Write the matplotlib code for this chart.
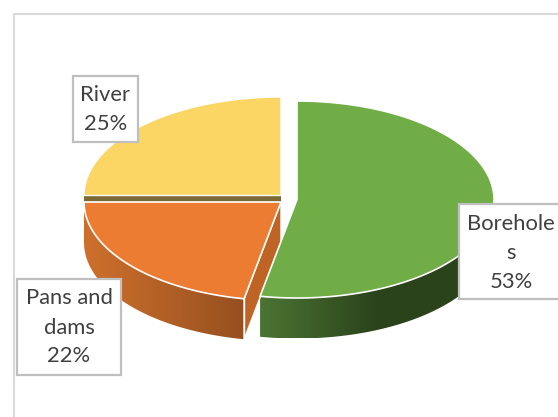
import numpy as np
import matplotlib
matplotlib.use("Agg")
import matplotlib.pyplot as plt
from matplotlib.colors import LinearSegmentedColormap
from matplotlib.patches import Polygon, Rectangle

# Shares in clockwise order from twelve o'clock
categories = ["Borehole\ns", "Pans and\ndams", "River"]
shares = [53, 22, 25]
top_colors = ["#70AD47", "#EC7C31", "#FBD665"]
wall_colors = [["#4B7433", "#2B431B", "#2B431B"], ["#CE702D", "#96501F"], ["#7B6A35", "#7B6A35"]]

plt.rcParams["font.family"] = ["Lato", "DejaVu Sans"]

fig = plt.figure(figsize=(5.58, 4.17), dpi=100)
ax = fig.add_axes([0, 0, 1, 1])
ax.set_xlim(0, 558)
ax.set_ylim(417, 0)
ax.axis("off")

# Outer chart frame, open on the right and at the bottom
ax.plot([14, 14, 558], [417, 13.5, 13.5], color="#D9D9D9", lw=1.5, zorder=1, solid_capstyle="butt")

RX, RY, DEPTH = 197, 98.5, 40.5
centres = [(297, 199.5), (281, 202), (281, 195.5)]


def arc(cx, cy, a0, a1, n=160):
    t = np.radians(np.linspace(a0, a1, n))
    return np.column_stack([cx + RX * np.sin(t), cy - RY * np.cos(t)])


def gradient_wall(poly, colors, x0, x1, zorder):
    cmap = LinearSegmentedColormap.from_list("wall", colors)
    grad = np.linspace(0, 1, 256).reshape(1, -1)
    ymin, ymax = poly[:, 1].min(), poly[:, 1].max()
    im = ax.imshow(grad, cmap=cmap, extent=[x0, x1, ymax, ymin], aspect="auto", zorder=zorder)
    im.set_clip_path(Polygon(poly, closed=True, transform=ax.transData))


ends = np.cumsum(shares) / sum(shares) * 360
starts = np.concatenate([[0], ends[:-1]])

# River: only its cut face shows, as a thin band under the top surface
cx, cy = centres[2]
ax.add_patch(Rectangle((cx - RX, cy), RX, DEPTH, fc=wall_colors[2][0], ec="none", zorder=2))

# Pans and dams: outer wall, cut face, top
cx, cy = centres[1]
rim = arc(cx, cy, starts[1], ends[1])
wall = np.vstack([rim, (rim + [0, DEPTH])[::-1]])
gradient_wall(wall, wall_colors[1], rim[:, 0].min(), rim[:, 0].max(), 3)
tip = rim[0]
ax.add_patch(Polygon([(cx, cy), tip, tip + [0, DEPTH], (cx, cy + DEPTH)], fc="#C06426", ec="white", lw=1, zorder=3.2))
ax.plot([tip[0], tip[0]], [tip[1], tip[1] + DEPTH], color="white", lw=1, zorder=3.4)
ax.add_patch(Polygon(np.vstack([[cx, cy], rim]), fc=top_colors[1], ec="white", lw=1.2, zorder=4))

# River top surface
cx, cy = centres[2]
rim = arc(cx, cy, starts[2], ends[2])
ax.add_patch(Polygon(np.vstack([[cx, cy], rim]), fc=top_colors[2], ec="white", lw=1.0, zorder=4.5))

# Boreholes: outer wall and top
cx, cy = centres[0]
rim = arc(cx, cy, starts[0], ends[0], n=300)
front = rim[rim[:, 1] >= cy]
wall = np.vstack([front, (front + [0, DEPTH])[::-1]])
gradient_wall(wall, wall_colors[0], front[:, 0].min(), front[:, 0].max(), 3)
ax.add_patch(Polygon(np.vstack([[cx, cy], rim]), fc=top_colors[0], ec="white", lw=1.2, zorder=4))

# Data labels in their bordered boxes
boxes = [(459, 203.5, 110, 95.5), (17, 278.5, 104, 96), (72.5, 75.5, 65.5, 66)]
offsets = [2, 1, 1]
for name, share, (x, y, w, h), dy in zip(categories, shares, boxes, offsets):
    ax.add_patch(Rectangle((x, y), w, h, fc="white", ec="#BFBFBF", lw=1.6, zorder=6))
    lines = f"{name}\n{share}%".split("\n")
    tx = min(x + w / 2, 511)
    mid = y + h / 2 + dy
    for i, line in enumerate(lines):
        ax.text(tx, mid + (i - (len(lines) - 1) / 2) * 29, line, ha="center", va="center",
                fontsize=15.8, color="#404040", zorder=7)

ax.set_xlim(0, 558)
ax.set_ylim(417, 0)
fig.savefig("out.png", dpi=100)
